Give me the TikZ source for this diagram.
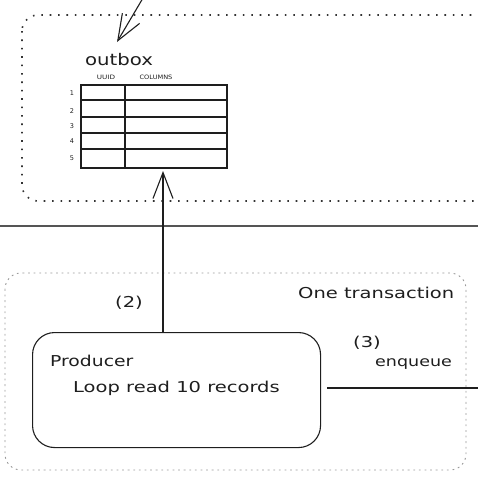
\documentclass[tikz,border=0pt]{standalone}
\usepackage{fontspec}
\usepackage{graphicx}
\setmainfont{DejaVu Sans}
\usetikzlibrary{arrows.meta}
\definecolor{ink}{HTML}{1E1E1E}
\definecolor{boxdot}{HTML}{333333}
\definecolor{txdot}{HTML}{9A9A9A}
\definecolor{sepline}{HTML}{555555}
\newcommand{\widetext}[2]{\scalebox{#1}[1]{#2}}
\tikzset{
  sketch/.style={draw=ink, line width=1.1pt},
  tableline/.style={draw=ink, line width=1.5pt},
  sketcharrow/.style={draw=ink, line width=1.1pt, -{Straight Barb[length=26pt,width=20pt,line width=1.1pt]}},
  label/.style={text=ink, inner sep=0pt, anchor=west, font=\fontsize{15}{18}\selectfont},
  tinylabel/.style={text=ink, inner sep=0pt, font=\fontsize{6}{7}\selectfont},
  rownum/.style={text=ink, inner sep=0pt, font=\fontsize{6.5}{7}\selectfont},
  outboxregion/.style={draw=boxdot, line width=1.6pt, dash pattern=on 1.6pt off 6.8pt, rounded corners=16pt},
  txregion/.style={draw=txdot, line width=0.9pt, dash pattern=on 1.8pt off 3.8pt, rounded corners=16pt},
}
\begin{document}
\begin{tikzpicture}[x=1pt,y=-1pt]
\useasboundingbox (0,0) rectangle (478,482);
\clip (0,0) rectangle (478,482);
% outbox region (dotted, extends past right edge)
\draw[outboxregion] (22,15) rectangle (520,201);
% transaction region
\draw[txregion] (5,273) rectangle (466,470);
% separator line
\draw[sepline, line width=1.8pt] (0,226) -- (478,226);
% outbox label
\node[label, font=\fontsize{16}{20}\selectfont] (outboxlbl) at (85,60) {\widetext{1.23}{outbox}};
% table
\node[tableline, minimum width=146pt, minimum height=83pt, inner sep=0pt, anchor=north west] (tbl) at (80,84) {};
\draw[tableline] (125,84) -- (125,167);
\foreach \yy in {100,117,133,149} {\draw[tableline] (80,\yy) -- (226,\yy);}
\node[tinylabel] (hid) at (106,77) {\widetext{1.2}{UUID}};
\node[tinylabel] (hcol) at (156,77) {\widetext{1.1}{COLUMNS}};
\node[rownum] (r1) at (72,93) {1};
\node[rownum] (r2) at (72,111) {2};
\node[rownum] (r3) at (72,126) {3};
\node[rownum] (r4) at (72,141) {4};
\node[rownum] (r5) at (72,158) {5};
% incoming arrow from top
\coordinate (topin) at (143,-2);
\coordinate (topout) at (117,42);
\draw[sketcharrow] (topin) -- (topout);
% producer
\node[sketch, rounded corners=22pt, minimum width=288pt, minimum height=115pt, anchor=north west] (prod) at (32,332) {};
\node[label] (prodlbl) at (50,361) {\widetext{1.25}{Producer}};
\node[label] (looplbl) at (73,388) {\widetext{1.3}{Loop read 10 records}};
% arrow (2)
\draw[sketcharrow] (prod.north -| 163,0) -- (163,171);
\node[label] (two) at (115,303) {\widetext{1.3}{(2)}};
% transaction label
\node[label] (txlbl) at (298,293) {\widetext{1.3}{One transaction}};
% enqueue
\coordinate (qout) at (480,388);
\draw[sketch] (prod.east |- 0,388) ++(6,0) -- (qout);
\node[label] (three) at (353,343) {\widetext{1.3}{(3)}};
\node[label, font=\fontsize{14}{16}\selectfont] (enq) at (375,364) {\widetext{1.25}{enqueue}};
\end{tikzpicture}
\end{document}
